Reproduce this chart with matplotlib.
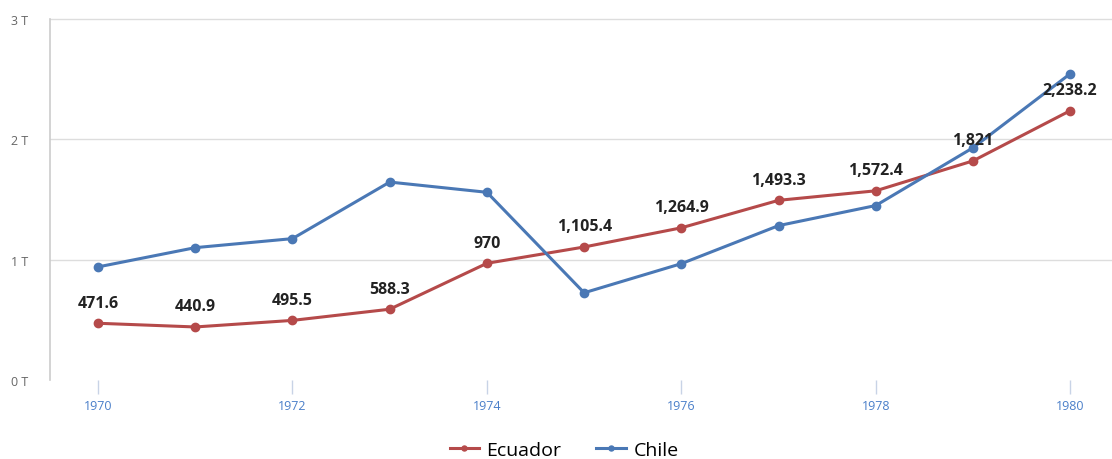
import matplotlib.pyplot as plt
from matplotlib.ticker import FuncFormatter

plt.rcParams['font.family'] = ['Open Sans', 'DejaVu Sans']

years = [1970, 1971, 1972, 1973, 1974, 1975, 1976, 1977, 1978, 1979, 1980]
# values in billions, axis shown in T
ecuador = [471.6, 440.9, 495.5, 588.3, 970, 1105.4, 1264.9, 1493.3, 1572.4, 1821, 2238.2]
chile = [940, 1100, 1175, 1645, 1560, 725, 967, 1283, 1450, 1930, 2545]
xticks = [1970, 1972, 1974, 1976, 1978, 1980]
yticks = [0, 1000, 2000, 3000]

red = '#b54a4a'
blue = '#4a78b5'

fig = plt.figure(figsize=(11.12, 4.6), dpi=100)
ax = fig.add_axes([0.045, 0.1717, 0.955, 0.7848])

ax.plot(years, ecuador, color=red, lw=2.2, marker='o', ms=6, label='Ecuador', zorder=3)
ax.plot(years, chile, color=blue, lw=2.2, marker='o', ms=6, label='Chile', zorder=3)

for x, v in zip(years, ecuador):
    txt = f'{v:,.1f}' if v != int(v) else f'{int(v):,}'
    ax.annotate(txt, (x, v), xytext=(0, 9), textcoords='offset points',
                ha='center', va='bottom', fontsize=11.5, fontweight='bold',
                color='#222222', zorder=4)

ax.set_xlim(1969.506, 1980.43)
ax.set_ylim(0, 3000)
ax.set_xticks(xticks)
ax.set_yticks(yticks)
ax.yaxis.set_major_formatter(FuncFormatter(lambda v, p: f'{int(v / 1000)} T'))

# horizontal guides, none at zero
for yv in yticks[1:]:
    ax.axhline(yv, color='#dddddd', lw=1, zorder=0, clip_on=False)
for s in ['top', 'right', 'bottom']:
    ax.spines[s].set_visible(False)
ax.spines['left'].set_color('#cccccc')
ax.spines['left'].set_linewidth(1.2)

ax.tick_params(axis='y', length=0, pad=16, labelsize=9, labelcolor='#666666')
ax.tick_params(axis='x', length=10, width=1, color='#c8d3e6', pad=4,
               labelsize=9, labelcolor='#4a7fc9')

ax.legend(loc='center', bbox_to_anchor=(0.484, -0.194), ncol=2, frameon=False,
          fontsize=14, handlelength=1.5, handletextpad=0.4, columnspacing=1.8,
          markerscale=0.6, borderpad=0)

fig.savefig('out.png', dpi=100)
